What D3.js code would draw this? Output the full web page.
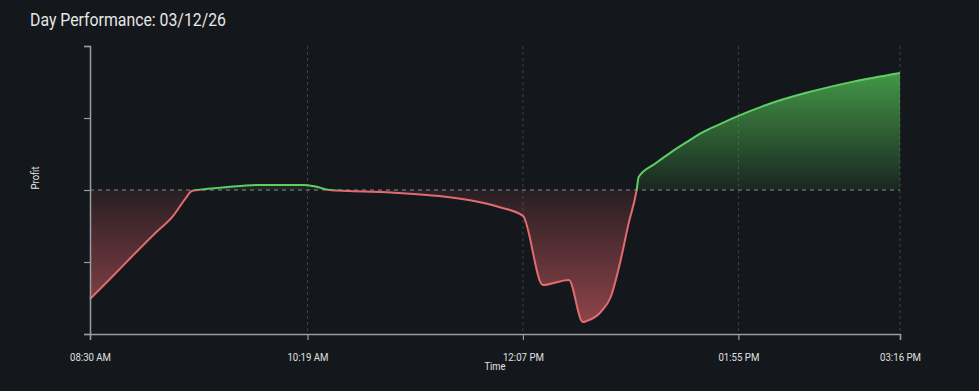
<!DOCTYPE html>
<html>
<head>
<meta charset="utf-8">
<script src="https://cdn.jsdelivr.net/npm/d3@7"></script>
<style>
  html, body { margin: 0; padding: 0; background: #14171b; }
  svg { display: block; font-family: Roboto, "Noto Sans", sans-serif; }
</style>
</head>
<body>
<div id="myChart"></div>
<script>
// profit through the session (time, value)
let times = ["08:30", "08:40", "08:51", "09:02", "09:12", "09:18", "09:21", "09:24", "09:39", "09:55",
             "10:17", "10:23", "10:30", "10:40", "11:05", "11:25", "11:45", "11:55", "12:07", "12:17",
             "12:30", "12:37", "12:39", "12:46", "12:51", "12:56", "13:00", "13:04", "13:05", "13:13",
             "13:21", "13:29", "13:37", "13:46", "13:55", "14:11", "14:29", "14:52", "15:16"];
let profit = [-75.7, -61.8, -46.2, -30.9, -17.4, -5.6, -0.7, 0, 2.1, 3.5,
              3.5, 2.4, 0, -0.7, -2.1, -4.2, -8.3, -11.8, -18, -66,
              -62.5, -91.7, -91, -84.7, -74.3, -48.6, -23, 0, 9, 18.0,
              26.0, 33.2, 40.0, 45.9, 51.5, 60.1, 67.5, 75.1, 81.3];
let tickTimes = ["08:30", "10:19", "12:07", "13:55", "15:16"];
let yTicks = [-100, -50, 0, 50, 100];

let W = 979, H = 391;
let margin = { top: 46, right: 79, bottom: 57, left: 90 },
    width = W - margin.left - margin.right,
    height = H - margin.top - margin.bottom;

let parseT = d3.timeParse("%H:%M");
let data = times.map((t, i) => ({ t: parseT(t), v: profit[i] }));

let root = d3.select("#myChart").append("svg")
  .attr("width", W)
  .attr("height", H);

root.append("rect").attr("width", W).attr("height", H).attr("fill", "#14171b");

root.append("text")
  .attr("x", 30).attr("y", 26)
  .attr("fill", "#e6e6e6")
  .attr("font-size", 19)
  .attr("textLength", 196)
  .attr("lengthAdjust", "spacingAndGlyphs")
  .text("Day Performance: 03/12/26");

let svg = root.append("g")
  .attr("transform", "translate(" + margin.left + "," + margin.top + ")");

let x = d3.scaleTime()
  .domain([parseT(times[0]), parseT(times[times.length - 1])])
  .range([0, width]);
let y = d3.scaleLinear()
  .domain([-100, 100])
  .range([height, 0]);

let defs = root.append("defs");

let gGreen = defs.append("linearGradient")
  .attr("id", "gGreen").attr("gradientUnits", "userSpaceOnUse")
  .attr("x1", 0).attr("x2", 0).attr("y1", y(0)).attr("y2", y(82));
gGreen.append("stop").attr("offset", "0%").attr("stop-color", "#4caf50").attr("stop-opacity", 0.1);
gGreen.append("stop").attr("offset", "100%").attr("stop-color", "#4caf50").attr("stop-opacity", 0.85);

let gRed = defs.append("linearGradient")
  .attr("id", "gRed").attr("gradientUnits", "userSpaceOnUse")
  .attr("x1", 0).attr("x2", 0).attr("y1", y(0)).attr("y2", y(-92));
gRed.append("stop").attr("offset", "0%").attr("stop-color", "#e06268").attr("stop-opacity", 0.1);
gRed.append("stop").attr("offset", "100%").attr("stop-color", "#e06268").attr("stop-opacity", 0.6);

defs.append("clipPath").attr("id", "clipUp")
  .append("rect").attr("x", -5).attr("y", -20).attr("width", width + 10).attr("height", y(0) + 20);
defs.append("clipPath").attr("id", "clipDown")
  .append("rect").attr("x", -5).attr("y", y(0)).attr("width", width + 10).attr("height", height - y(0) + 20);

// vertical grid
svg.selectAll(".vgrid")
  .data(tickTimes.slice(1))
  .enter()
  .append("line")
  .attr("x1", d => x(parseT(d))).attr("x2", d => x(parseT(d)))
  .attr("y1", 0).attr("y2", height)
  .attr("stroke", "#3d4146")
  .attr("stroke-dasharray", "3,3");

let area = d3.area()
  .x(d => x(d.t))
  .y0(y(0))
  .y1(d => y(d.v))
  .curve(d3.curveMonotoneX);
let line = d3.line()
  .x(d => x(d.t))
  .y(d => y(d.v))
  .curve(d3.curveMonotoneX);

svg.append("path").datum(data).attr("d", area)
  .attr("fill", "url(#gGreen)").attr("clip-path", "url(#clipUp)");
svg.append("path").datum(data).attr("d", area)
  .attr("fill", "url(#gRed)").attr("clip-path", "url(#clipDown)");

// zero line
svg.append("line")
  .attr("x1", 0).attr("x2", width)
  .attr("y1", y(0)).attr("y2", y(0))
  .attr("stroke", "#8a8d92")
  .attr("stroke-dasharray", "4,4");

svg.append("path").datum(data).attr("d", line)
  .attr("fill", "none").attr("stroke", "#5fce65").attr("stroke-width", 2)
  .attr("clip-path", "url(#clipUp)");
svg.append("path").datum(data).attr("d", line)
  .attr("fill", "none").attr("stroke", "#e06c70").attr("stroke-width", 2)
  .attr("clip-path", "url(#clipDown)");

// add the x Axis
let xAxis = svg.append("g")
  .attr("transform", "translate(0," + height + ")")
  .call(d3.axisBottom(x)
    .tickValues(tickTimes.map(parseT))
    .tickFormat(d3.timeFormat("%I:%M %p"))
    .tickPadding(13));

// add the y Axis
let yAxis = svg.append("g")
  .call(d3.axisLeft(y).tickValues(yTicks).tickFormat(""));

[xAxis, yAxis].forEach(a => {
  a.select(".domain").attr("stroke", "#9a9da2").attr("stroke-width", 1.5);
  a.selectAll(".tick line").attr("stroke", "#9a9da2").attr("stroke-width", 1.2);
  a.selectAll(".tick text").attr("fill", "#e0e0e0").attr("font-size", 11.5)
    .attr("font-family", "Roboto, sans-serif")
    .attr("textLength", 41)
    .attr("lengthAdjust", "spacingAndGlyphs");
});

root.append("text")
  .attr("x", margin.left + width / 2).attr("y", 370)
  .attr("text-anchor", "middle")
  .attr("fill", "#e6e6e6").attr("font-size", 11)
  .attr("textLength", 21)
  .attr("lengthAdjust", "spacingAndGlyphs")
  .text("Time");

root.append("text")
  .attr("transform", "translate(39,178) rotate(-90)")
  .attr("text-anchor", "middle")
  .attr("fill", "#e6e6e6").attr("font-size", 11)
  .attr("textLength", 23)
  .attr("lengthAdjust", "spacingAndGlyphs")
  .text("Profit");
</script>
</body>
</html>
